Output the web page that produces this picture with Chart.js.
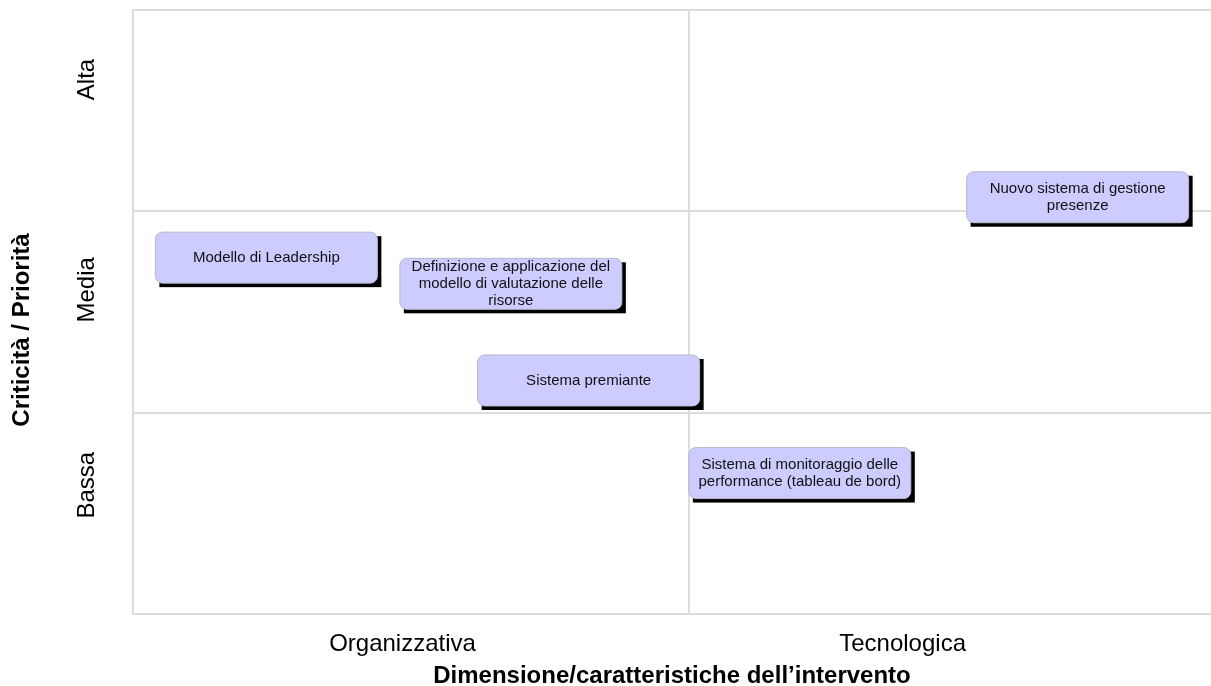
<!DOCTYPE html>
<html lang="it">
<head>
<meta charset="utf-8">
<title>Criticità / Priorità</title>
<script src="https://cdn.jsdelivr.net/npm/chart.js@4.4.1/dist/chart.umd.min.js"></script>
<style>
  html, body { margin: 0; padding: 0; background: #fff; overflow: hidden; }
  canvas { display: block; }
</style>
</head>
<body>
<canvas id="matrixChart" width="1211" height="686"></canvas>
<script>
// interventi (testo dei riquadri) e loro posizione nella matrice
const interventi = [
  ['Modello di Leadership'],
  ['Definizione e applicazione del', 'modello di valutazione delle', 'risorse'],
  ['Sistema premiante'],
  ['Nuovo sistema di gestione', 'presenze'],
  ['Sistema di monitoraggio delle', 'performance (tableau de bord)']
];
const dimensione = [0.24, 0.68, 0.82, 1.70, 1.20];
const priorita = [1.77, 1.64, 1.16, 2.07, 0.70];

// etichette degli assi
const categorieX = ['Organizzativa', 'Tecnologica'];
const categorieXPos = [0.485, 1.385];
const livelliY = ['Bassa', 'Media', 'Alta'];
const livelliYPos = [0.64, 1.61, 2.655];
const gridX = [0, 1];
const gridY = [0, 1, 2, 3];

const FONT = '"Liberation Sans", Arial, sans-serif';
const GRID_COLOR = '#dcdcdc';

function setTicks(values) {
  return scale => { scale.ticks = values.map(v => ({ value: v })); };
}

function fixSize(prop, size) {
  return scale => {
    scale[prop] = size;
    scale.paddingTop = 0;
    scale.paddingBottom = 0;
    scale.paddingLeft = 0;
    scale.paddingRight = 0;
  };
}

// sposta un po' in basso il titolo dell'asse verticale (le tacche restano dove sono)
const titoloY = {
  id: 'titoloY',
  afterLayout(chart) {
    const s = chart.scales.yLab;
    s.top += 18;
    s.bottom += 18;
  }
};

// riquadri con ombra, centrati sui punti del dataset
const riquadri = {
  id: 'riquadri',
  afterDatasetsDraw(chart) {
    const ctx = chart.ctx;
    const meta = chart.getDatasetMeta(0);
    const w = 222, h = 51, r = 7, ombra = 4;
    ctx.save();
    meta.data.forEach((pt, i) => {
      const x0 = pt.x - w / 2;
      const y0 = pt.y - h / 2;
      ctx.fillStyle = '#000';
      ctx.fillRect(x0 + ombra, y0 + ombra, w, h);

      ctx.beginPath();
      ctx.roundRect(x0, y0, w, h, r);
      ctx.fillStyle = '#ccccff';
      ctx.fill();
      ctx.strokeStyle = '#b8b8cc';
      ctx.lineWidth = 1;
      ctx.stroke();

      const righe = interventi[i];
      ctx.fillStyle = '#111';
      ctx.font = '15px ' + FONT;
      ctx.textAlign = 'center';
      ctx.textBaseline = 'middle';
      righe.forEach((t, k) => {
        ctx.fillText(t, pt.x, pt.y + (k - (righe.length - 1) / 2) * 17);
      });
    });
    ctx.restore();
  }
};

const ctx = document.getElementById('matrixChart').getContext('2d');

new Chart(ctx, {
  type: 'scatter',
  data: {
    datasets: [{
      data: dimensione.map((x, i) => ({ x: x, y: priorita[i] })),
      pointRadius: 0,
      pointHoverRadius: 0,
      xAxisID: 'x',
      yAxisID: 'y'
    }]
  },
  options: {
    responsive: false,
    animation: false,
    devicePixelRatio: 1,
    layout: {
      padding: { top: 10, right: 0, bottom: 0, left: 0 }
    },
    plugins: {
      legend: { display: false },
      tooltip: { enabled: false }
    },
    events: [],
    scales: {
      x: {
        type: 'linear',
        position: 'bottom',
        weight: 0,
        min: 0,
        max: 1.94,
        afterBuildTicks: setTicks(gridX),
        afterFit: fixSize('height', 0),
        grid: { color: GRID_COLOR, lineWidth: 2, drawTicks: false },
        border: { color: GRID_COLOR, width: 2 },
        ticks: { display: false }
      },
      xLab: {
        type: 'linear',
        position: 'bottom',
        weight: 1,
        min: 0,
        max: 1.94,
        afterBuildTicks: setTicks(categorieXPos),
        afterFit: fixSize('height', 72),
        grid: { display: false, drawTicks: false },
        border: { display: false },
        ticks: {
          autoSkip: false,
          maxRotation: 0,
          padding: 16,
          color: '#000',
          font: { family: FONT, size: 24 },
          callback: (v, i) => categorieX[i]
        },
        title: {
          display: true,
          text: 'Dimensione/caratteristiche dell\u2019intervento',
          color: '#000',
          font: { family: FONT, size: 24, weight: 'bold', lineHeight: 1 },
          padding: { top: 0, bottom: -2 }
        }
      },
      y: {
        type: 'linear',
        position: 'left',
        weight: 0,
        min: 0,
        max: 3,
        afterBuildTicks: setTicks(gridY),
        afterFit: fixSize('width', 0),
        grid: { color: GRID_COLOR, lineWidth: 2, drawTicks: false },
        border: { color: GRID_COLOR, width: 2 },
        ticks: { display: false }
      },
      yLab: {
        type: 'linear',
        position: 'left',
        weight: 1,
        min: 0,
        max: 3,
        afterBuildTicks: setTicks(livelliYPos),
        afterFit: fixSize('width', 133),
        grid: { display: false, drawTicks: false },
        border: { display: false },
        ticks: {
          autoSkip: false,
          minRotation: 90,
          maxRotation: 90,
          crossAlign: 'center',
          padding: 12,
          color: '#000',
          font: { family: FONT, size: 24 },
          callback: (v, i) => livelliY[i]
        },
        title: {
          display: true,
          text: 'Criticità / Priorità',
          color: '#000',
          font: { family: FONT, size: 24, weight: 'bold', lineHeight: 1 },
          padding: { top: 10, bottom: 0 }
        }
      }
    }
  },
  plugins: [titoloY, riquadri]
});
</script>
</body>
</html>
